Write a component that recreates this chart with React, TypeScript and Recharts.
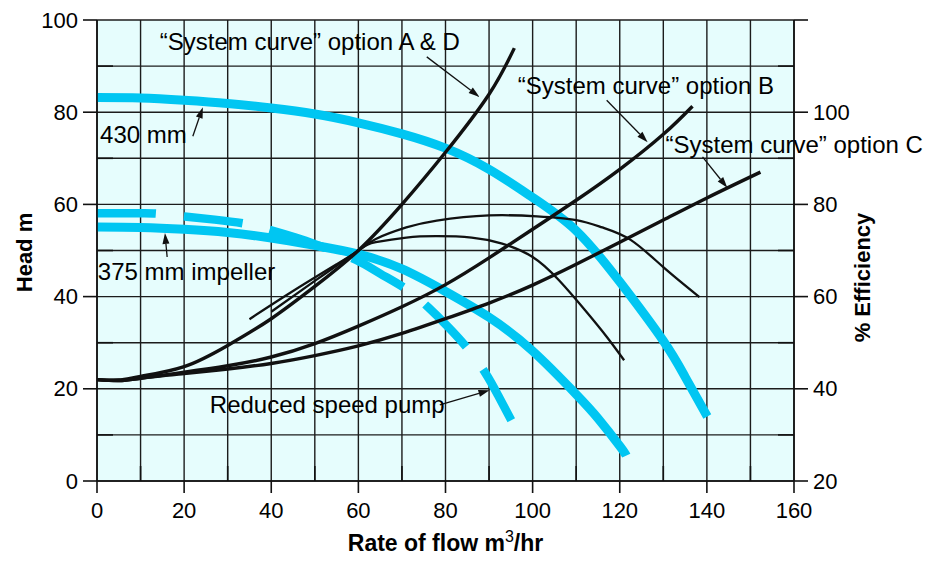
import {
  LineChart,
  Line,
  XAxis,
  YAxis,
  CartesianGrid,
  ReferenceLine,
  ReferenceDot,
} from "recharts";

type Pt = [number, number];

const FLOW_TICKS = [0, 10, 20, 30, 40, 50, 60, 70, 80, 90, 100, 110, 120, 130, 140, 150, 160];
const HEAD_TICKS = [0, 10, 20, 30, 40, 50, 60, 70, 80, 90, 100];
const EFFICIENCY_TICKS = [20, 30, 40, 50, 60, 70, 80, 90, 100, 110, 120];

// pump curves: [flow m3/hr, head m]
const PUMP_430: Pt[] = [
  [0, 83.2], [10, 83.1], [20, 82.6], [30, 81.9], [40, 80.9], [50, 79.6], [60, 77.7],
  [70, 75.3], [80, 72.2], [90, 67.6], [100, 61.5], [110, 54.3], [120, 43.2], [130, 30.4],
  [135, 22.6], [140.1, 14],
];
const PUMP_375: Pt[] = [
  [0, 55.1], [10, 55], [20, 54.6], [30, 53.9], [40, 52.7], [50, 51.1], [60, 49.2],
  [70, 46], [80, 41.1], [90, 35.5], [100, 28.2], [110, 18.8], [115, 13.6], [120, 7.6],
  [121.5, 5.5],
];
const PUMP_REDUCED: Pt[] = [
  [0, 58.1], [10, 58.1], [14, 58], [20, 57.4], [27, 56.7], [34, 55.8], [40, 54.4],
  [47, 52.4], [53.4, 50.2], [59.6, 47.9], [65, 45], [71, 41.6], [76, 37.7], [80.5, 33.5],
  [85, 28.8], [89.1, 23.5], [92, 18.7], [95.1, 13.2],
];

// efficiency curves, read against the head scale (efficiency = head + 20)
const EFF_430: Pt[] = [
  [35, 35.1], [45, 41.2], [55, 47], [60, 50], [64, 52.5], [71, 55], [78, 56.5],
  [90, 57.6], [101, 57.4], [110, 56.6], [116, 55], [122.5, 52.3], [130, 46.4], [138.3, 39.9],
];
const EFF_375: Pt[] = [
  [40, 36.7], [50, 43.4], [60, 50], [64, 51.8], [71, 52.8], [78, 53.1], [86, 52.8],
  [93, 51.5], [100, 48.6], [106, 43.6], [112, 37.1], [117, 31.3], [121, 26.2],
];

// system curves
const SYSTEM_AD: Pt[] = [
  [0, 22], [5, 21.9], [10, 22.7], [20, 24.8], [30, 29.4], [40, 35.2], [50, 42.2],
  [60, 50], [70, 60], [80, 71.3], [90, 83.9], [95.8, 93.9],
];
const SYSTEM_B: Pt[] = [
  [0, 22], [5, 21.8], [10, 22.3], [20, 23.6], [30, 25], [40, 26.9], [50, 29.8],
  [60, 33.6], [70, 37.8], [80, 42.6], [90, 48.4], [100, 54.6], [110, 60.9], [120, 67.6],
  [130, 75.2], [136.7, 81.3],
];
const SYSTEM_C: Pt[] = [
  [0, 22], [5, 21.8], [10, 22.3], [20, 23.3], [30, 24.3], [40, 25.5], [50, 27.2],
  [60, 29.3], [70, 32], [80, 35.2], [90, 38.6], [100, 42.5], [110, 47], [120, 51.8],
  [130, 56.6], [140, 61.4], [152.3, 67],
];

const NOTES = [
  { text: "\u201cSystem curve\u201d option A & D", x: 14.4, y: 93.5 },
  { text: "\u201cSystem curve\u201d option B", x: 96.6, y: 83.9 },
  { text: "\u201cSystem curve\u201d option C", x: 130.5, y: 71.1 },
  { text: "430 mm", x: 0.7, y: 73.3 },
  { text: "375 mm impeller", x: 0.2, y: 43.6 },
  { text: "Reduced speed pump", x: 25.9, y: 14.8 },
];

const ARROWS: { from: Pt; to: Pt }[] = [
  { from: [75.7, 92], to: [87.8, 83.3] },
  { from: [117, 82.6], to: [126.4, 73.5] },
  { from: [139, 70.3], to: [144.7, 63.6] },
  { from: [22, 74.8], to: [24.3, 81.1] },
  { from: [16.1, 48.6], to: [15.6, 53.8] },
  { from: [78.7, 16.5], to: [90.1, 19.7] },
];

const FONT = "'Liberation Sans', Arial, Helvetica, sans-serif";
const CYAN = "#00c6f2";
const INK = "#111";
const PLOT_BG = "#e6fdfd";

const OUT_TICK = 14;
const IN_TICK = 16;
const TICK_GAP = 5;

const toData = (pts: Pt[]) => pts.map(([x, y]) => ({ x, y }));

function LeftTick(props: any) {
  const { x, y, payload } = props;
  const v = payload.value;
  const ax = x + OUT_TICK + TICK_GAP;
  if (v % 20 !== 0) {
    return <line x1={ax} x2={ax + IN_TICK} y1={y} y2={y} stroke={INK} strokeWidth={1.6} />;
  }
  return (
    <g>
      <line x1={ax - OUT_TICK} x2={ax} y1={y} y2={y} stroke={INK} strokeWidth={1.6} />
      <text x={x} y={y} textAnchor="end" dominantBaseline="central" fontSize={22} fill="#000">
        {v}
      </text>
    </g>
  );
}

function RightTick(props: any) {
  const { x, y, payload } = props;
  const v = payload.value;
  const ax = x - OUT_TICK - TICK_GAP;
  if (v % 20 !== 0) {
    return <line x1={ax - IN_TICK} x2={ax} y1={y} y2={y} stroke={INK} strokeWidth={1.6} />;
  }
  return (
    <g>
      <line x1={ax} x2={ax + OUT_TICK} y1={y} y2={y} stroke={INK} strokeWidth={1.6} />
      {v <= 100 && (
        <text x={x} y={y} textAnchor="start" dominantBaseline="central" fontSize={22} fill="#000">
          {v}
        </text>
      )}
    </g>
  );
}

function BottomTick(props: any) {
  const { x, y, payload } = props;
  const v = payload.value;
  const ay = y - 12 - TICK_GAP;
  if (v % 20 !== 0) {
    return <line x1={x} x2={x} y1={ay - 15} y2={ay} stroke={INK} strokeWidth={1.6} />;
  }
  return (
    <g>
      <line x1={x} x2={x} y1={ay} y2={ay + 12} stroke={INK} strokeWidth={1.6} />
      <text x={x} y={ay + 29} textAnchor="middle" dominantBaseline="central" fontSize={22} fill="#000">
        {v}
      </text>
    </g>
  );
}

function Arrow(props: any) {
  const { x1, y1, x2, y2 } = props;
  const a = Math.atan2(y2 - y1, x2 - x1);
  const len = 11;
  const half = 3.5;
  const bx = x2 - len * Math.cos(a);
  const by = y2 - len * Math.sin(a);
  const px = -Math.sin(a) * half;
  const py = Math.cos(a) * half;
  return (
    <g>
      <line x1={x1} y1={y1} x2={bx} y2={by} stroke={INK} strokeWidth={1.3} />
      <polygon
        points={`${x2},${y2} ${bx + px},${by + py} ${bx - px},${by - py}`}
        fill={INK}
      />
    </g>
  );
}

export default function App() {
  const curve = {
    type: "natural" as const,
    dataKey: "y",
    yAxisId: "head",
    dot: false,
    activeDot: false,
    isAnimationActive: false,
  };

  return (
    <div style={{ position: "absolute", left: 0, top: 0, background: "#fff", fontFamily: FONT }}>
      <LineChart
        width={929}
        height={564}
        margin={{ top: 20, right: 0, bottom: 0, left: 0 }}
        style={{ fontFamily: FONT }}
      >
        <CartesianGrid
          yAxisId="head"
          stroke="#1c1c1c"
          strokeWidth={1.4}
          fill={PLOT_BG}
          fillOpacity={1}
        />
        <XAxis
          dataKey="x"
          type="number"
          domain={[0, 160]}
          allowDataOverflow
          ticks={FLOW_TICKS}
          interval={0}
          height={83}
          tickSize={12}
          tickMargin={TICK_GAP}
          tickLine={false}
          stroke={INK}
          strokeWidth={1.6}
          tick={BottomTick}
          label={(p: any) => {
            const vb = p.viewBox;
            return (
              <text
                x={vb.x + vb.width / 2}
                y={vb.y + 70}
                textAnchor="middle"
                fontSize={23}
                fontWeight="bold"
                fill="#000"
              >
                Rate of flow m
                <tspan dy={-9} fontSize={16} fontWeight="normal">3</tspan>
                <tspan dy={9}>/hr</tspan>
              </text>
            );
          }}
        />
        <YAxis
          yAxisId="head"
          orientation="left"
          type="number"
          domain={[0, 100]}
          allowDataOverflow
          ticks={HEAD_TICKS}
          interval={0}
          width={97}
          tickSize={OUT_TICK}
          tickMargin={TICK_GAP}
          tickLine={false}
          stroke={INK}
          strokeWidth={1.6}
          tick={LeftTick}
          label={(p: any) => {
            const vb = p.viewBox;
            const cx = vb.x + 24;
            const cy = vb.y + vb.height / 2 + 2;
            return (
              <text
                x={cx}
                y={cy}
                transform={`rotate(-90, ${cx}, ${cy})`}
                textAnchor="middle"
                dominantBaseline="central"
                fontSize={22}
                fontWeight="bold"
                fill="#000"
              >
                Head m
              </text>
            );
          }}
        />
        <YAxis
          yAxisId="eff"
          orientation="right"
          type="number"
          domain={[20, 120]}
          allowDataOverflow
          ticks={EFFICIENCY_TICKS}
          interval={0}
          width={135}
          tickSize={OUT_TICK}
          tickMargin={TICK_GAP}
          tickLine={false}
          stroke={INK}
          strokeWidth={1.6}
          tick={RightTick}
          label={(p: any) => {
            const vb = p.viewBox;
            const cx = vb.x + 68;
            const cy = vb.y + vb.height / 2 + 27;
            return (
              <text
                x={cx}
                y={cy}
                transform={`rotate(-90, ${cx}, ${cy})`}
                textAnchor="middle"
                dominantBaseline="central"
                fontSize={22}
                fontWeight="bold"
                fill="#000"
              >
                % Efficiency
              </text>
            );
          }}
        />

        <Line {...curve} data={toData(PUMP_430)} stroke={CYAN} strokeWidth={9} />
        <Line {...curve} data={toData(PUMP_375)} stroke={CYAN} strokeWidth={9} />
        <Line
          {...curve}
          data={toData(PUMP_REDUCED)}
          stroke={CYAN}
          strokeWidth={8.5}
          strokeDasharray="59 28"
        />

        <Line {...curve} data={toData(EFF_430)} stroke={INK} strokeWidth={2.3} />
        <Line {...curve} data={toData(EFF_375)} stroke={INK} strokeWidth={2.3} />

        <Line {...curve} data={toData(SYSTEM_AD)} stroke={INK} strokeWidth={3.4} />
        <Line {...curve} data={toData(SYSTEM_B)} stroke={INK} strokeWidth={3.4} />
        <Line {...curve} data={toData(SYSTEM_C)} stroke={INK} strokeWidth={3.4} />

        {ARROWS.map((a, i) => (
          <ReferenceLine
            key={`arrow-${i}`}
            yAxisId="head"
            ifOverflow="visible"
            segment={[
              { x: a.from[0], y: a.from[1] },
              { x: a.to[0], y: a.to[1] },
            ]}
            shape={(p: any) => <Arrow {...p} />}
          />
        ))}

        {NOTES.map((n) => (
          <ReferenceDot
            key={n.text}
            yAxisId="head"
            x={n.x}
            y={n.y}
            r={0}
            ifOverflow="visible"
            shape={(p: any) => (
              <text x={p.cx} y={p.cy} fontSize={24} fill="#000" fontFamily={FONT}>
                {n.text}
              </text>
            )}
          />
        ))}
      </LineChart>
    </div>
  );
}
